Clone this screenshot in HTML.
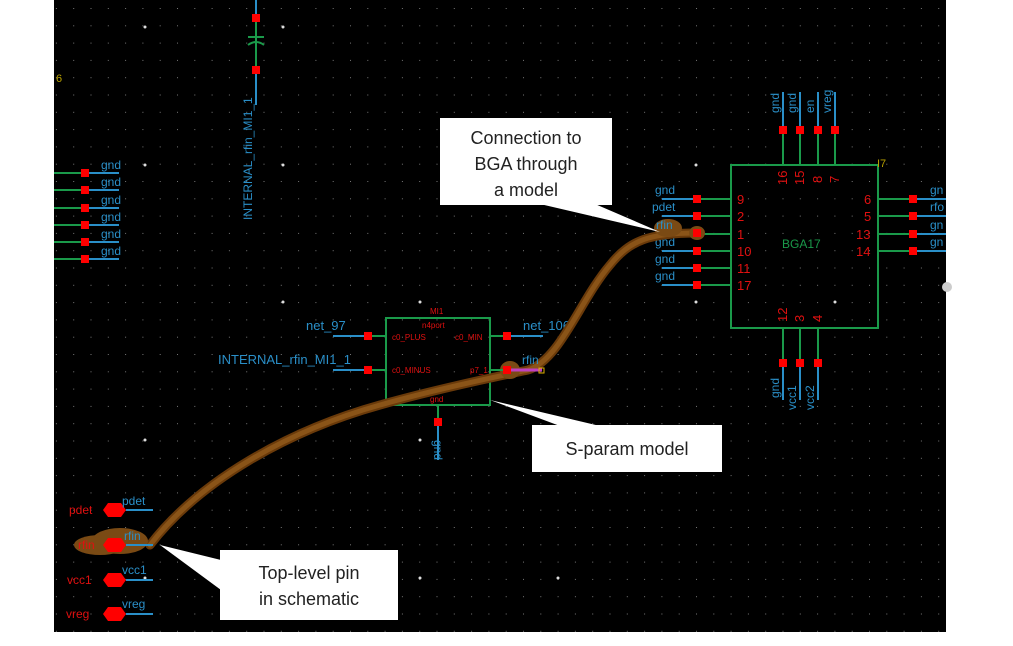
<!DOCTYPE html>
<html><head><meta charset="utf-8"><style>
html,body{margin:0;padding:0;background:#fff;width:1013px;height:646px;overflow:hidden}
svg{display:block}
.b{fill:#2a8fc8;font-family:"Liberation Sans",sans-serif;font-size:12px}
.r{fill:#e01010;font-family:"Liberation Sans",sans-serif;font-size:12px}
.n{fill:#e01010;font-family:"Liberation Sans",sans-serif;font-size:13px}
.c{font-family:"Liberation Sans",sans-serif;font-size:18px;fill:#222}
</style></head><body>
<svg width="1013" height="646" viewBox="0 0 1013 646">
<defs>
<pattern id="g" x="4" y="8" width="17.3" height="17.3" patternUnits="userSpaceOnUse">
<rect x="0" y="0" width="1" height="1" fill="#777"/></pattern>
</defs>
<rect x="0" y="0" width="1013" height="646" fill="#fff"/>
<rect x="54" y="0" width="892" height="632" fill="#000"/>
<rect x="54" y="0" width="892" height="632" fill="url(#g)"/>
<g fill="#ddd">
<circle cx="145" cy="27" r="1.5"/><circle cx="283" cy="27" r="1.5"/><circle cx="145" cy="165" r="1.5"/><circle cx="283" cy="165" r="1.5"/>
<circle cx="696" cy="165" r="1.5"/><circle cx="696" cy="302" r="1.5"/><circle cx="835" cy="302" r="1.5"/>
<circle cx="283" cy="302" r="1.5"/><circle cx="420" cy="302" r="1.5"/><circle cx="283" cy="440" r="1.5"/><circle cx="420" cy="440" r="1.5"/>
<circle cx="145" cy="440" r="1.5"/><circle cx="145" cy="578" r="1.5"/><circle cx="420" cy="578" r="1.5"/><circle cx="558" cy="578" r="1.5"/>
</g>
<circle cx="947" cy="287" r="5" fill="#ccc"/>
<text x="56" y="82" fill="#b8a000" font-family="Liberation Sans" font-size="11">6</text>
<g>
<line x1="256" y1="0" x2="256" y2="18" stroke="#2a8fc8" stroke-width="2"/>
<line x1="256" y1="18" x2="256" y2="70" stroke="#1a9a4a" stroke-width="2"/>
<line x1="248" y1="37" x2="264" y2="37" stroke="#1a9a4a" stroke-width="2"/>
<path d="M248 45 Q256 39 264 45" stroke="#1a9a4a" fill="none" stroke-width="2"/>
<line x1="256" y1="70" x2="256" y2="105" stroke="#2a8fc8" stroke-width="2"/>
<rect x="252" y="14" width="8" height="8" fill="#f00"/><rect x="252" y="66" width="8" height="8" fill="#f00"/>
<text class="b" transform="translate(252,220) rotate(-90)">INTERNAL_rfin_MI1_1</text>
</g>
<g>
<g id="gs"><line x1="54" y1="173" x2="85" y2="173" stroke="#1a9a4a" stroke-width="2"/><line x1="85" y1="173" x2="119" y2="173" stroke="#2a8fc8" stroke-width="2"/><rect x="81" y="169" width="8" height="8" fill="#f00"/><text class="b" x="101" y="169">gnd</text></g>
<use href="#gs" y="17"/><use href="#gs" y="35"/><use href="#gs" y="52"/><use href="#gs" y="69"/><use href="#gs" y="86"/>
</g>
<rect x="731" y="165" width="147" height="163" fill="none" stroke="#1a9a4a" stroke-width="2"/>
<text x="782" y="248" fill="#1a9a4a" font-family="Liberation Sans" font-size="12">BGA17</text>
<text x="877" y="167" fill="#b8a000" font-family="Liberation Sans" font-size="11">I7</text>
<g id="lp"><line x1="662" y1="199" x2="697" y2="199" stroke="#2a8fc8" stroke-width="2"/><line x1="697" y1="199" x2="731" y2="199" stroke="#1a9a4a" stroke-width="2"/><rect x="693" y="195" width="8" height="8" fill="#f00"/></g>
<use href="#lp" y="17"/><use href="#lp" y="35"/><use href="#lp" y="52"/><use href="#lp" y="69"/><use href="#lp" y="86"/>
<g class="b"><text x="655" y="194">gnd</text><text x="652" y="211">pdet</text><text x="655" y="246">gnd</text><text x="655" y="263">gnd</text><text x="655" y="280">gnd</text></g>
<g class="n"><text x="737" y="204">9</text><text x="737" y="221">2</text><text x="737" y="239">1</text><text x="737" y="256">10</text><text x="737" y="273">11</text><text x="737" y="290">17</text>
<text x="864" y="204">6</text><text x="864" y="221">5</text><text x="856" y="239">13</text><text x="856" y="256">14</text></g>
<g id="rp"><line x1="878" y1="199" x2="913" y2="199" stroke="#1a9a4a" stroke-width="2"/><line x1="913" y1="199" x2="946" y2="199" stroke="#2a8fc8" stroke-width="2"/><rect x="909" y="195" width="8" height="8" fill="#f00"/></g>
<use href="#rp" y="17"/><use href="#rp" y="35"/><use href="#rp" y="52"/>
<g class="b"><text x="930" y="194">gn</text><text x="930" y="211">rfo</text><text x="930" y="229">gn</text><text x="930" y="246">gn</text></g>
<g id="tp"><line x1="783" y1="92" x2="783" y2="130" stroke="#2a8fc8" stroke-width="2"/><line x1="783" y1="130" x2="783" y2="165" stroke="#1a9a4a" stroke-width="2"/><rect x="779" y="126" width="8" height="8" fill="#f00"/></g>
<use href="#tp" x="17"/><use href="#tp" x="35"/><use href="#tp" x="52"/>
<g class="b"><text transform="translate(779,113) rotate(-90)">gnd</text><text transform="translate(796,113) rotate(-90)">gnd</text><text transform="translate(814,113) rotate(-90)">en</text><text transform="translate(831,113) rotate(-90)">vreg</text></g>
<g class="n"><text transform="translate(787,185) rotate(-90)">16</text><text transform="translate(804,185) rotate(-90)">15</text><text transform="translate(822,183) rotate(-90)">8</text><text transform="translate(839,183) rotate(-90)">7</text>
<text transform="translate(787,322) rotate(-90)">12</text><text transform="translate(804,322) rotate(-90)">3</text><text transform="translate(822,322) rotate(-90)">4</text></g>
<g id="bp"><line x1="783" y1="328" x2="783" y2="363" stroke="#1a9a4a" stroke-width="2"/><line x1="783" y1="363" x2="783" y2="400" stroke="#2a8fc8" stroke-width="2"/><rect x="779" y="359" width="8" height="8" fill="#f00"/></g>
<use href="#bp" x="17"/><use href="#bp" x="35"/>
<g class="b"><text transform="translate(779,398) rotate(-90)">gnd</text><text transform="translate(796,410) rotate(-90)">vcc1</text><text transform="translate(814,410) rotate(-90)">vcc2</text></g>
<rect x="386" y="318" width="104" height="87" fill="none" stroke="#1a9a4a" stroke-width="2"/>
<g class="r" style="font-size:8px"><text x="430" y="314">MI1</text><text x="422" y="328">n4port</text><text x="392" y="340">c0_PLUS</text><text x="455" y="340">c0_MIN</text><text x="392" y="373">c0_MINUS</text><text x="470" y="373">p7_1</text><text x="430" y="402">gnd</text></g>
<line x1="333" y1="336" x2="386" y2="336" stroke="#2a8fc8" stroke-width="2"/><line x1="368" y1="336" x2="386" y2="336" stroke="#1a9a4a" stroke-width="2"/><rect x="364" y="332" width="8" height="8" fill="#f00"/>
<line x1="333" y1="370" x2="386" y2="370" stroke="#2a8fc8" stroke-width="2"/><line x1="368" y1="370" x2="386" y2="370" stroke="#1a9a4a" stroke-width="2"/><rect x="364" y="366" width="8" height="8" fill="#f00"/>
<line x1="490" y1="336" x2="543" y2="336" stroke="#2a8fc8" stroke-width="2"/><line x1="490" y1="336" x2="507" y2="336" stroke="#1a9a4a" stroke-width="2"/><rect x="503" y="332" width="8" height="8" fill="#f00"/>
<line x1="438" y1="405" x2="438" y2="460" stroke="#2a8fc8" stroke-width="2"/><line x1="438" y1="405" x2="438" y2="422" stroke="#1a9a4a" stroke-width="2"/><rect x="434" y="418" width="8" height="8" fill="#f00"/>
<g class="b" style="font-size:13px"><text x="306" y="330">net_97</text><text x="218" y="364">INTERNAL_rfin_MI1_1</text><text x="523" y="330">net_106</text></g>
<text class="b" transform="translate(434,440) rotate(90)">gnd</text>
<g>
<g id="hp"><polygon points="103,510 108,503 121,503 126,510 121,517 108,517" fill="#f00"/><line x1="126" y1="510" x2="153" y2="510" stroke="#2a8fc8" stroke-width="2"/></g>
<use href="#hp" y="35"/><use href="#hp" y="70"/><use href="#hp" y="104"/>
<g class="r"><text x="69" y="514">pdet</text><text x="67" y="584">vcc1</text><text x="66" y="618">vreg</text></g>
<g class="b"><text x="122" y="505">pdet</text><text x="122" y="574">vcc1</text><text x="122" y="608">vreg</text></g>
</g>
<g fill="none" stroke-linecap="round">
<path d="M150 545 C200 480 290 430 380 405 C440 388 500 376 528 370 C560 360 580 300 610 265 C630 240 650 233 697 233" stroke="#6a3a0a" stroke-width="9"/>
<path d="M150 545 C200 480 290 430 380 405 C440 388 500 376 528 370 C560 360 580 300 610 265 C630 240 650 233 697 233" stroke="#8a5418" stroke-width="5"/>
</g>
<ellipse cx="100" cy="545" rx="26" ry="10" fill="#7a4a14"/>
<ellipse cx="120" cy="541" rx="28" ry="13" fill="#7a4a14"/>
<polygon points="103,545 108,538 121,538 126,545 121,552 108,552" fill="#f00"/>
<line x1="126" y1="545" x2="153" y2="545" stroke="#2a8fc8" stroke-width="2"/>
<text class="r" x="78" y="549">rfin</text><text class="b" x="124" y="540">rfin</text>
<ellipse cx="668" cy="228" rx="14" ry="9" fill="#7a4a14"/><ellipse cx="697" cy="233" rx="8" ry="7" fill="#7a4a14"/>
<rect x="693" y="229" width="8" height="8" fill="#f00"/>
<text class="b" x="656" y="229">rfin</text>
<ellipse cx="510" cy="370" rx="10" ry="9" fill="#7a4a14"/>
<line x1="490" y1="370" x2="507" y2="370" stroke="#1a9a4a" stroke-width="2"/>
<line x1="507" y1="370" x2="542" y2="370" stroke="#c040c0" stroke-width="3"/>
<rect x="503" y="366" width="8" height="8" fill="#f00"/>
<rect x="539" y="368" width="5" height="5" fill="none" stroke="#e0b000"/>
<text class="b" x="522" y="364" style="font-size:12px">rfin</text>
<polygon points="540,204 595,204 660,232" fill="#fff"/>
<rect x="440" y="118" width="172" height="87" fill="#fff"/>
<text class="c" text-anchor="middle" x="526" y="144">Connection to</text>
<text class="c" text-anchor="middle" x="526" y="170">BGA through</text>
<text class="c" text-anchor="middle" x="526" y="196">a model</text>
<polygon points="490,400 560,426 600,426" fill="#fff"/>
<rect x="532" y="425" width="190" height="47" fill="#fff"/>
<text class="c" text-anchor="middle" x="627" y="455">S-param model</text>
<polygon points="160,545 221,560 221,590" fill="#fff"/>
<rect x="220" y="550" width="178" height="70" fill="#fff"/>
<text class="c" text-anchor="middle" x="309" y="579">Top-level pin</text>
<text class="c" text-anchor="middle" x="309" y="605">in schematic</text>
</svg>
</body></html>
